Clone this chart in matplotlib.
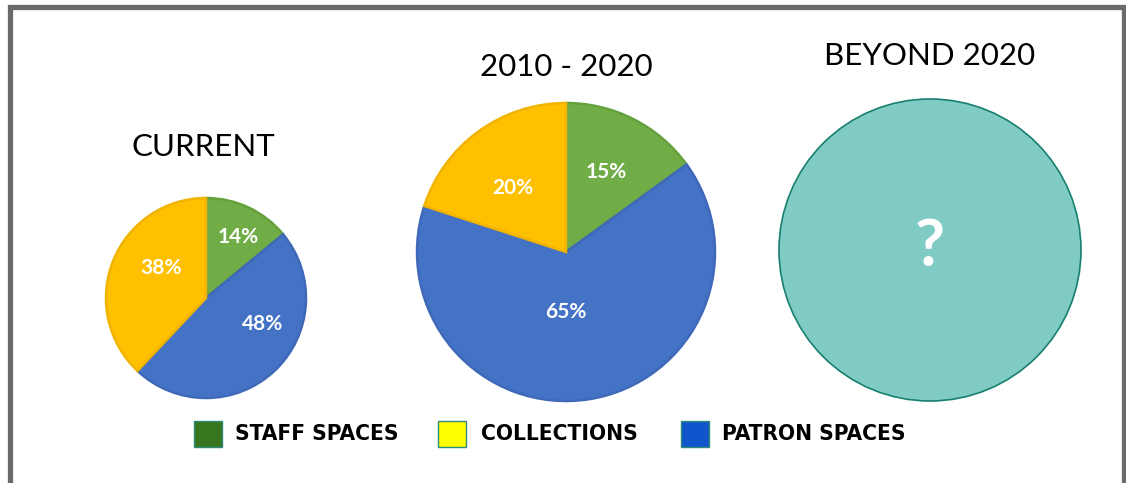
"""
Space allocation pies: current, 2010-2020, beyond 2020.
"""
import matplotlib
matplotlib.use('Agg')
import matplotlib.pyplot as plt
from matplotlib.patches import Rectangle, Circle
import numpy as np

# Data
categories = ['STAFF SPACES', 'PATRON SPACES', 'COLLECTIONS']
current_vals = [14, 48, 38]
decade_vals = [15, 65, 20]
titles = ['CURRENT', '2010 - 2020', 'BEYOND 2020']
legend_labels = ['STAFF SPACES', 'COLLECTIONS', 'PATRON SPACES']

# Palette
GREEN, BLUE, YELLOW = '#70AD47', '#4472C4', '#FFC000'
GREEN_E, BLUE_E, YELLOW_E = '#64A03C', '#3F69B8', '#F0B400'
LEG_COLORS = ['#38761D', '#FFFF00', '#1155CC']
TEAL, TEAL_E = '#80CBC4', '#17806F'
BORDER = '#6B6B6B'

TITLE_FONT = ['Lato', 'DejaVu Sans']

W, H = 1126, 483
fig = plt.figure(figsize=(W / 100, H / 100), dpi=100)
ax = fig.add_axes([0, 0, 1, 1])
fig.patch.set_facecolor('white')


def yy(y):
    return H - y


def draw_pie(vals, cx, cy, r, label_r):
    wedges, _, autotexts = ax.pie(
        vals, colors=[GREEN, BLUE, YELLOW], startangle=90, counterclock=False,
        center=(cx, yy(cy)), radius=r, autopct='%d%%', pctdistance=0.6,
        wedgeprops=dict(linewidth=1.8), frame=True,
        textprops=dict(color='white', fontsize=15, fontweight='bold',
                       family=TITLE_FONT))
    for w, ec in zip(wedges, [GREEN_E, BLUE_E, YELLOW_E]):
        w.set_edgecolor(ec)
    for t, (ang, d) in zip(autotexts, label_r):
        a = np.deg2rad(ang)
        t.set_position((cx + d * r * np.cos(a), yy(cy) + d * r * np.sin(a)))
    return wedges


# label placement (angle in degrees, fraction of radius) per slice
draw_pie(current_vals, 206, 298, 100, [(62, 0.69), (-25, 0.62), (146, 0.54)])
draw_pie(decade_vals, 566, 252, 149, [(63, 0.6), (-90, 0.4), (130, 0.56)])
ax.set_xlim(0, W); ax.set_ylim(0, H); ax.set_aspect('equal'); ax.axis('off')

# Beyond 2020: unknown
ax.add_patch(Circle((930, yy(250)), 151, facecolor=TEAL, edgecolor=TEAL_E, lw=1.2))
ax.text(930, yy(247), '?', color='white', fontsize=47, fontweight='bold',
        ha='center', va='center', family=TITLE_FONT)

# Titles
for (x, y), t in zip([(203, 147), (566, 67), (930, 56)], titles):
    ax.text(x, yy(y), t, fontsize=22.5, ha='center', va='center',
            family=TITLE_FONT, color='black')

# Legend
for (bx, tx), lab, c in zip([(194, 235), (438, 481), (681, 722)], legend_labels, LEG_COLORS):
    ax.add_patch(Rectangle((bx, yy(447)), 28, 26, facecolor=c, edgecolor='#2E8B7A', lw=1))
    ax.text(tx, yy(434), lab, fontsize=16.2, fontweight='bold', va='center',
            family='DejaVu Sans', fontstretch='condensed', color='black')

# Frame (bottom edge cut off)
ax.plot([9.5, 9.5, 1123.5, 1123.5], [0, yy(6.5), yy(6.5), 0], color=BORDER,
        lw=3.8, solid_joinstyle='miter', clip_on=False)

plt.savefig('out.png', dpi=100, facecolor='white')
